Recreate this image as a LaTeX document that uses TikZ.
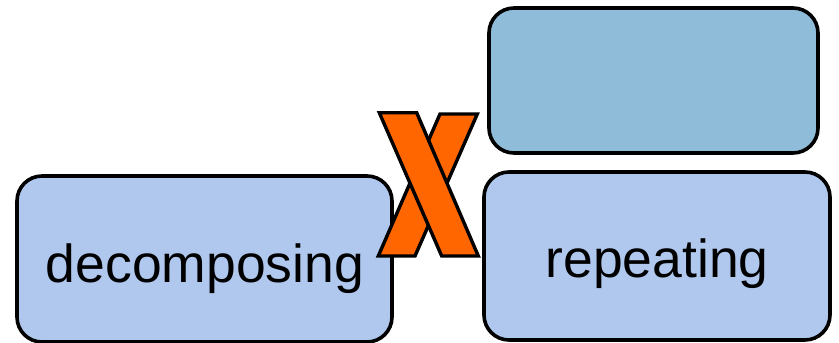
\documentclass[tikz,border=0pt]{standalone}
\usepackage{fontspec}
\setmainfont{Liberation Sans}
\definecolor{lightbox}{RGB}{176,200,238}
\definecolor{darkbox}{RGB}{142,188,217}
\definecolor{xorange}{RGB}{255,102,0}
\begin{document}
\begin{tikzpicture}[x=1pt,y=-1pt,
  box/.style={draw=black,line width=3.6pt,rounded corners=25pt,inner sep=0pt,outer sep=0pt},
  lbl/.style={anchor=base,inner sep=0pt,font=\fontsize{53.5}{60}\selectfont},
  xpart/.style={draw=black,fill=xorange,line width=3.4pt,line join=miter}]
\useasboundingbox (0,0) rectangle (839,343);
\node[box,fill=lightbox,minimum width=375pt,minimum height=166pt] (dec) at (204.5,259) {};
\node[box,fill=darkbox,minimum width=329pt,minimum height=145pt] (top) at (653.5,80.5) {};
\node[box,fill=lightbox,minimum width=346pt,minimum height=168pt] (rep) at (657,256) {};
\node[lbl] (dect) at (205,282) {decomposing};
\node[lbl] (rept) at (657,277) {repeating};
% X mark
\coordinate (xa) at (440,114);
\coordinate (xb) at (477.3,114);
\coordinate (xc) at (415,256);
\coordinate (xd) at (378.3,256);
\coordinate (ya) at (379.3,112.7);
\coordinate (yb) at (416.7,112.7);
\coordinate (yc) at (478.3,256);
\coordinate (yd) at (441.7,256);
\draw[xpart] (xa) -- (xb) -- (xc) -- (xd) -- cycle;
\draw[xpart] (ya) -- (yb) -- (yc) -- (yd) -- cycle;
\end{tikzpicture}
\end{document}
